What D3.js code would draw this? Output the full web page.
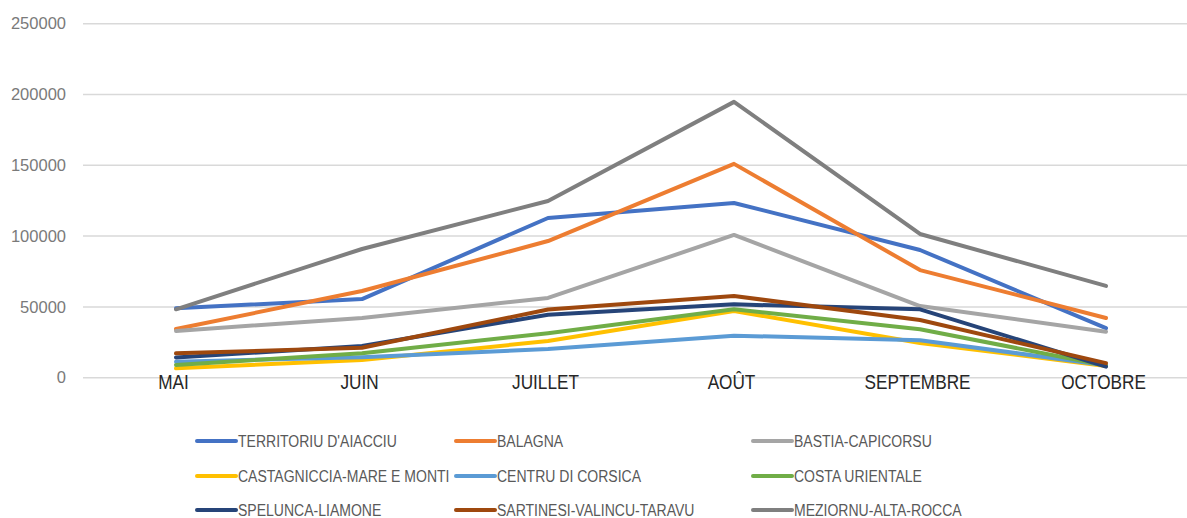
<!DOCTYPE html>
<html><head><meta charset="utf-8">
<script src="https://cdn.jsdelivr.net/npm/d3@7"></script>
<style>
html,body{margin:0;padding:0;background:#fff;}
svg{display:block;}
</style></head>
<body>
<svg id="chart" width="1187" height="518"></svg>
<script>
const months = ["MAI","JUIN","JUILLET","AOÛT","SEPTEMBRE","OCTOBRE"];
const yTicks = [0,50000,100000,150000,200000,250000];
const seriesNames = ["TERRITORIU D'AIACCIU","BALAGNA","BASTIA-CAPICORSU","CASTAGNICCIA-MARE E MONTI","CENTRU DI CORSICA","COSTA URIENTALE","SPELUNCA-LIAMONE","SARTINESI-VALINCU-TARAVU","MEZIORNU-ALTA-ROCCA"];
const seriesColors = ["#4472C4","#ED7D31","#A5A5A5","#FFC000","#5B9BD5","#70AD47","#264478","#9E480E","#7F7F7F"];
const territoriu = [49000,55500,112800,123400,90200,35000];
const balagna = [34400,61200,96500,151000,76000,42200];
const bastia = [33000,42200,56300,100800,50600,32500];
const castagniccia = [6600,12500,25900,47100,24500,8300];
const centru = [11300,14400,20300,29700,26500,8800];
const costa = [9000,17200,31400,48300,34200,8600];
const spelunca = [14300,22400,44500,51800,48300,7800];
const sartinesi = [17200,21200,48200,57700,40700,10300];
const meziornu = [48300,90900,124800,194800,101500,64800];
const seriesValues = [territoriu,balagna,bastia,castagniccia,centru,costa,spelunca,sartinesi,meziornu];

const svg = d3.select("#chart");
const x = d3.scalePoint().domain(months).range([83,1199]).padding(0.5);
const y = d3.scaleLinear().domain([0,250000]).range([377.7,23.7]);

// gridlines
svg.append("g").selectAll("line").data(yTicks).join("line")
  .attr("x1",83).attr("x2",1187)
  .attr("y1",d=>y(d)).attr("y2",d=>y(d))
  .attr("stroke","#d9d9d9").attr("stroke-width",1.5);

// y axis labels
const yAxis = d3.axisLeft(y).tickValues(yTicks).tickFormat(d3.format("d")).tickSize(0).tickPadding(0);
const ya = svg.append("g").attr("transform","translate(66,0)").call(yAxis);
ya.select(".domain").remove();
ya.selectAll("text").attr("font-family","'Liberation Sans', Arial, sans-serif")
  .attr("font-size","16.5px").attr("fill","#7a7a7a");

// x axis labels
const xAxis = d3.axisBottom(x).tickSize(0).tickPadding(0);
const xa = svg.append("g").attr("transform","translate(-3,375)").call(xAxis);
xa.select(".domain").remove();
xa.selectAll("text").attr("font-family","'Liberation Sans', Arial, sans-serif")
  .attr("font-size","20px").attr("fill","#262626").attr("dy","0.71em")
  .attr("transform","scale(0.86,1)");

// lines
const line = d3.line().x((d,i)=>x(months[i])).y(d=>y(d));
svg.append("g").selectAll("path").data(seriesValues).join("path")
  .attr("d",d=>line(d))
  .attr("fill","none")
  .attr("stroke",(d,i)=>seriesColors[i])
  .attr("stroke-width",4)
  .attr("stroke-linejoin","round")
  .attr("stroke-linecap","round");

// legend
const colX = [197,456,753];
const rowY = [441,476,510];
const leg = svg.append("g").selectAll("g").data(seriesNames).join("g")
  .attr("transform",(d,i)=>`translate(${colX[i%3]},${rowY[Math.floor(i/3)]})`);
leg.append("line").attr("x1",0).attr("x2",39).attr("y1",0).attr("y2",0)
  .attr("stroke",(d,i)=>seriesColors[i]).attr("stroke-width",4).attr("stroke-linecap","round");
leg.append("text").attr("x",0).attr("y",0).attr("dy","0.36em")
  .attr("transform","translate(41,0) scale(0.85,1)")
  .attr("font-family","'Liberation Sans', Arial, sans-serif")
  .attr("font-size","16.5px").attr("fill","#595959").text(d=>d);
</script>
</body></html>
